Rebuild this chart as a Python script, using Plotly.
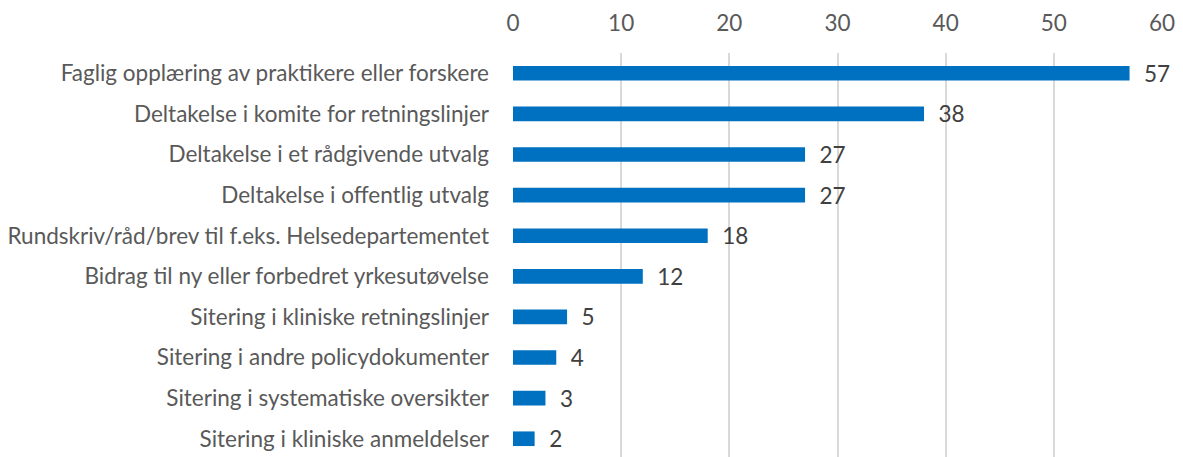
import plotly.graph_objects as go

categories = [
    "Faglig opplæring av praktikere eller forskere",
    "Deltakelse i komite for retningslinjer",
    "Deltakelse i et rådgivende utvalg",
    "Deltakelse i offentlig utvalg",
    "Rundskriv/råd/brev til f.eks. Helsedepartementet",
    "Bidrag til ny eller forbedret yrkesutøvelse",
    "Sitering i kliniske retningslinjer",
    "Sitering i andre policydokumenter",
    "Sitering i systematiske oversikter",
    "Sitering i kliniske anmeldelser",
]
values = [57, 38, 27, 27, 18, 12, 5, 4, 3, 2]
x_ticks = [0, 10, 20, 30, 40, 50, 60]

FONT = "Lato"
FS = 22.5

fig = go.Figure(go.Bar(
    x=values,
    y=categories,
    orientation="h",
    marker=dict(color="#0070C0", line=dict(width=0)),
    width=0.36,
    text=values,
    texttemplate="\u00a0\u00a0%{x}",
    textposition="outside",
    constraintext="none",
    textfont=dict(family=FONT, size=FS, color="#404040"),
    cliponaxis=False,
))

# page body has an 8px default margin, so the figure is shifted by 8px
fig.update_layout(
    width=1175,
    height=449,
    margin=dict(l=505, r=21, t=45, b=0, autoexpand=False),
    plot_bgcolor="white",
    paper_bgcolor="white",
    showlegend=False,
    font=dict(family=FONT, size=FS, color="#595959"),
    xaxis=dict(
        side="top",
        range=[0, 60],
        tickvals=x_ticks,
        showgrid=True,
        gridcolor="#D9D9D9",
        gridwidth=1.5,
        zeroline=False,
        showline=False,
        ticks="",
        automargin=False,
        ticklabelstandoff=17,
        tickfont=dict(family=FONT, size=FS, color="#595959"),
    ),
    yaxis=dict(
        range=[9.45, -0.5],
        showgrid=False,
        zeroline=False,
        showline=False,
        ticks="",
        automargin=False,
        ticklabelstandoff=23,
        tickfont=dict(family=FONT, size=FS, color="#595959"),
    ),
)

fig.write_html("out.html")
